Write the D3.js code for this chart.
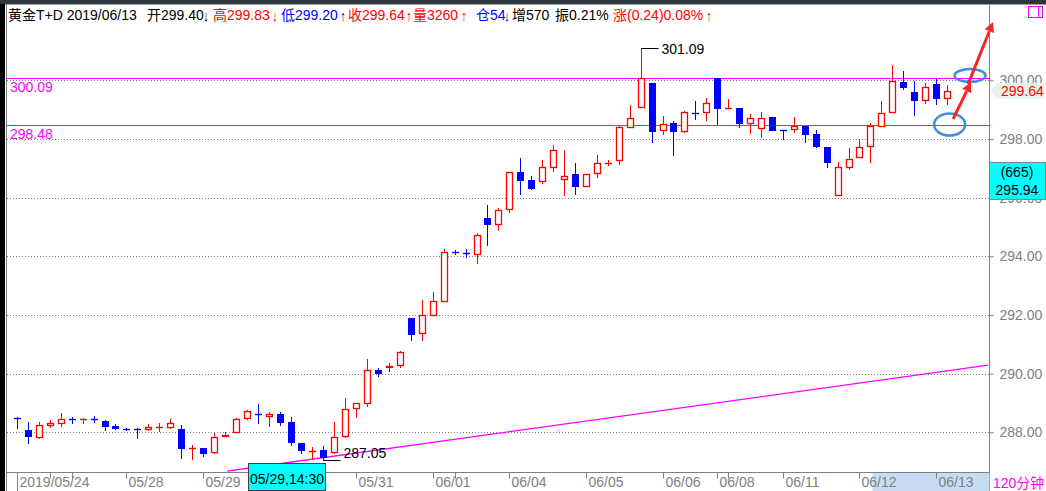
<!DOCTYPE html>
<html><head><meta charset="utf-8">
<script src="https://cdn.jsdelivr.net/npm/d3@7"></script>
<style>
body{margin:0;background:#fff;overflow:hidden}
svg{display:block}
text{font-family:"Liberation Sans","Noto Sans CJK SC",sans-serif}
</style>
</head><body>
<svg id="c" width="1046" height="491"></svg>
<script>
// ---------- data (120-minute candles, 黄金T+D) ----------
const opens = [288.50,288.08,287.85,288.26,288.33,288.46,288.44,288.45,288.38,288.20,
  288.11,288.12,288.10,288.18,288.19,288.11,287.45,287.47,287.32,287.86,
  288.00,288.48,288.61,288.56,288.63,288.35,287.64,287.36,287.40,287.32,
  287.89,288.82,288.99,290.13,290.22,290.28,291.90,291.38,292.01,292.47,
  294.15,294.10,294.07,295.30,295.10,295.60,296.86,296.59,296.58,297.06,
  296.65,296.81,296.38,296.83,297.17,297.27,298.40,299.08,299.91,298.32,
  298.55,298.28,298.90,298.91,300.09,299.05,299.05,298.53,298.36,298.75,
  298.32,298.33,298.44,298.17,297.73,296.09,297.03,297.38,297.75,298.45,
  298.91,299.93,299.60,299.34,299.86,299.40];
const highs = [288.52,288.34,288.34,288.41,288.66,288.52,288.50,288.56,288.41,288.28,
  288.16,288.16,288.28,288.32,288.45,288.25,287.56,287.47,287.97,288.00,
  288.48,288.77,288.97,288.68,288.68,288.52,287.64,287.50,287.53,288.35,
  289.17,288.99,290.50,290.19,290.36,290.77,291.90,292.51,292.77,294.24,
  294.20,294.24,294.78,295.75,295.64,296.86,297.35,296.73,297.28,297.80,
  297.63,297.18,296.80,297.45,297.28,298.48,299.16,301.09,299.91,298.78,
  298.61,298.95,299.30,299.40,300.09,299.35,299.05,298.85,298.93,298.75,
  298.32,298.74,298.44,298.31,297.73,297.20,297.69,298.01,298.53,299.30,
  300.53,300.32,299.99,299.92,300.05,299.83];
const lows = [288.16,287.63,287.82,288.19,288.23,288.32,288.33,288.34,288.09,288.12,
  288.08,287.82,288.08,288.05,288.13,287.14,287.09,287.20,287.31,287.86,
  288.00,288.44,288.33,288.23,288.26,287.58,287.31,287.14,287.05,287.30,
  287.85,288.53,288.91,289.93,290.10,290.24,291.16,291.16,292.01,292.47,
  294.07,293.97,293.76,294.40,294.88,295.52,296.14,296.31,296.51,296.92,
  296.10,296.14,296.38,296.72,297.11,297.16,298.40,299.08,297.91,298.18,
  297.45,298.25,298.68,298.65,298.51,299.05,298.42,298.22,298.05,298.32,
  298.01,298.25,297.91,297.72,297.06,296.09,296.97,297.38,297.23,298.45,
  298.91,299.70,298.83,299.24,299.20,299.20];
const closes = [288.48,287.89,288.24,288.33,288.44,288.45,288.45,288.44,288.23,288.13,
  288.10,288.11,288.17,288.19,288.31,287.48,287.46,287.31,287.83,287.91,
  288.44,288.72,288.59,288.63,288.36,287.66,287.39,287.37,287.15,287.83,
  288.78,288.99,290.11,290.03,290.27,290.73,291.36,291.99,292.47,294.14,
  294.14,294.09,294.72,295.11,295.57,296.86,296.61,296.34,297.03,297.61,
  296.73,296.38,296.80,297.17,297.18,298.40,298.70,300.07,298.28,298.50,
  298.28,298.92,298.89,299.23,299.07,299.06,298.56,298.70,298.70,298.32,
  298.31,298.43,298.18,297.76,297.23,297.03,297.31,297.72,298.43,298.88,
  299.97,299.76,299.34,299.78,299.41,299.64];

const yTicks = [288,290,292,294,296,298,300];
const tickIdx    = [0,3,5,10,17,24,31,38,40,45,52,59,64,65,70,77,84];
const tickLabels = ["2019/05/24","","","05/28","05/29","","05/31","06/01","","06/04","06/05","06/06","06/08","","06/11","06/12","06/13"];
const levels = [300.09, 298.48];
const trendIdx = [19.2, 88.76];
const trendVal = [286.68, 290.29];
const maxIdx = 57, maxVal = 301.09;
const minIdx = 28, minVal = 287.05;
const lastPrice = 299.64;
const cursorPrice = 295.94, cursorCount = "(665)", cursorLabel = "05/29,14:30";
const headerText = ["黄金T+D 2019/06/13","开299.40","高299.83","低299.20","收299.64","量3260","仓54","增570","振0.21%","涨(0.24)0.08%"];
const headerColor = ["#000","#000","#f00","#00f","#f00","#f00","#00f","#000","#000","#f00"];
const headerX = [8,147,213,281,348,413,476,512,555,613];
const arrowText = ["↓","↓","↑","↑","↑","↓","↑"];
const arrowColor = ["#000","#f00","#00f","#f00","#f00","#00f","#f00"];
const arrowX = [203,272,340,406,461,504,706];

// ---------- drawing ----------
const W = 1046, H = 491;
const L = 7, R = 989.5, T = 5, B = 472.5;
const svg = d3.select("#c");
const x = d3.scaleLinear().domain([0, 85]).range([17, 947]);
const y = d3.scaleLinear().domain([288, 300]).range([432.3, 80.3]);
const RED = "#ff0000", BLUE = "#0000ff", GRAY = "#808080", MAG = "#ff00ff";

// frame
svg.append("rect").attr("x",0).attr("y",0).attr("width",W).attr("height",4).attr("fill","#30363c");
svg.append("line").attr("x1",0).attr("x2",W).attr("y1",4.5).attr("y2",4.5).attr("stroke","#a0a0a0");
svg.append("rect").attr("x",0).attr("y",4).attr("width",5).attr("height",H).attr("fill","#000");
svg.append("line").attr("x1",6.5).attr("x2",6.5).attr("y1",5).attr("y2",H).attr("stroke",GRAY);

// header text
const hg = svg.append("g");
headerText.forEach((t,k)=>hg.append("text").attr("x",headerX[k]).attr("y",20).attr("font-size",14).attr("fill",headerColor[k]).text(t));
arrowText.forEach((t,k)=>hg.append("text").attr("x",arrowX[k]).attr("y",21).attr("font-size",15)
  .attr("font-family",'"DejaVu Sans",sans-serif').attr("textLength",6).attr("lengthAdjust","spacingAndGlyphs")
  .attr("fill",arrowColor[k]).text(t));

// grid
const grid = svg.append("g");
grid.selectAll("line").data(yTicks).join("line")
  .attr("x1",L).attr("x2",R).attr("y1",d=>Math.round(y(d))+0.5).attr("y2",d=>Math.round(y(d))+0.5)
  .attr("stroke",GRAY).attr("stroke-dasharray","1,2");

// right axis
const yAxis = d3.axisRight(y).tickValues(yTicks).tickSize(4).tickPadding(6).tickFormat(d3.format(".2f"));
const ya = svg.append("g").attr("transform",`translate(${R},0)`).call(yAxis);
ya.select(".domain").remove();
ya.selectAll("line").attr("stroke",GRAY);
ya.selectAll("text").attr("fill",GRAY).attr("font-size",14).attr("font-family",'"Liberation Sans",sans-serif');
svg.append("line").attr("x1",R).attr("x2",R).attr("y1",5).attr("y2",H).attr("stroke",GRAY);

// bottom axis
svg.append("rect").attr("x",x(77)+13).attr("y",B+0.5).attr("width",R-x(77)-13).attr("height",H-B).attr("fill","#c7dcf3");
svg.append("line").attr("x1",L).attr("x2",R).attr("y1",B).attr("y2",B).attr("stroke",GRAY);
const tk = svg.append("g");
tickIdx.forEach((t,k)=>{
  const tx = Math.round(x(t))+0.5;
  tk.append("line").attr("x1",tx).attr("x2",tx).attr("y1",B).attr("y2",k===0?H:B+6).attr("stroke",GRAY);
  if (tickLabels[k]) tk.append("text").attr("x",tx+2).attr("y",487).attr("font-size",14).attr("fill",GRAY).text(tickLabels[k]);
});
svg.append("text").attr("x",993).attr("y",488).attr("font-size",14).attr("fill",MAG).text("120分钟");

// magenta levels
levels.forEach(v=>{
  const ly = Math.round(y(v))+0.5;
  svg.append("line").attr("x1",L).attr("x2",R).attr("y1",ly).attr("y2",ly).attr("stroke",MAG);
  svg.append("text").attr("x",10).attr("y",ly+13).attr("font-size",14).attr("fill",MAG).text(v.toFixed(2));
});
// trend line
svg.append("line").attr("x1",x(trendIdx[0])).attr("y1",y(trendVal[0])).attr("x2",x(trendIdx[1])).attr("y2",y(trendVal[1]))
  .attr("stroke",MAG).attr("stroke-width",1.3);

// candles
const cg = svg.append("g");
opens.forEach((o,i)=>{
  const c = closes[i], h = highs[i], l = lows[i];
  const up = c >= o;
  const col = up ? RED : BLUE;
  const cx = Math.round(x(i));
  const yTop = Math.round(y(Math.max(o,c))), yBot = Math.round(y(Math.min(o,c)));
  const yh = Math.round(y(h)), yl = Math.round(y(l));
  cg.append("line").attr("x1",cx+0.5).attr("x2",cx+0.5).attr("y1",yh).attr("y2",yl+1).attr("stroke",col);
  if (Math.abs(o-c) < 0.035 || yBot - yTop < 1) {
    cg.append("line").attr("x1",cx-3).attr("x2",cx+4).attr("y1",yTop+0.5).attr("y2",yTop+0.5).attr("stroke",col).attr("stroke-width",1.4);
  } else if (up) {
    cg.append("rect").attr("x",cx-2.5).attr("y",yTop+0.5).attr("width",6).attr("height",yBot-yTop)
      .attr("fill","#fff").attr("stroke",RED).attr("stroke-width",1.3);
  } else {
    cg.append("rect").attr("x",cx-3).attr("y",yTop).attr("width",7).attr("height",yBot-yTop+1).attr("fill",BLUE);
  }
});

// max / min labels
const mx = Math.round(x(maxIdx))+0.5, my = Math.round(y(maxVal))+0.5;
svg.append("line").attr("x1",mx).attr("x2",mx+17).attr("y1",my).attr("y2",my).attr("stroke","#000");
svg.append("text").attr("x",mx+20).attr("y",my+5).attr("font-size",14).attr("fill","#000").text(maxVal.toFixed(2));
const nx = Math.round(x(minIdx))+0.5, ny = Math.round(y(minVal))+0.5;
svg.append("line").attr("x1",nx).attr("x2",nx+17).attr("y1",ny).attr("y2",ny).attr("stroke","#000");
svg.append("text").attr("x",nx+20).attr("y",ny-3).attr("font-size",14).attr("fill","#000").text(minVal.toFixed(2));

// cursor date box
svg.append("rect").attr("x",248.5).attr("y",463.5).attr("width",77).attr("height",27).attr("fill","#00ffff").attr("stroke","#404040");
svg.append("text").attr("x",287).attr("y",484).attr("text-anchor","middle").attr("font-size",14).attr("fill","#000").text(cursorLabel);

// last price label
const py = y(lastPrice);
svg.append("path").attr("d",`M${R+1},${py} L${R+8},${py-8} L1044,${py-8} L1044,${py+8} L${R+8},${py+8} Z`).attr("fill","#e8f2e8");
svg.append("text").attr("x",1001).attr("y",py+5).attr("font-size",14).attr("fill",RED).text(lastPrice.toFixed(2));

// cursor price box
const cy = y(cursorPrice);
svg.append("rect").attr("x",989.5).attr("y",cy-37).attr("width",56).attr("height",37).attr("fill","#00ffff").attr("stroke",GRAY);
svg.append("text").attr("x",1017).attr("y",cy-22).attr("text-anchor","middle").attr("font-size",14).attr("fill","#000").text(cursorCount);
svg.append("text").attr("x",1017).attr("y",cy-4).attr("text-anchor","middle").attr("font-size",14).attr("fill","#000").text(cursorPrice.toFixed(2));

// corner icon
svg.append("rect").attr("x",1028.5).attr("y",6.5).attr("width",14).attr("height",11).attr("fill","none").attr("stroke",MAG);
svg.append("line").attr("x1",1038.5).attr("x2",1038.5).attr("y1",6.5).attr("y2",17.5).attr("stroke",MAG);

// annotations (ellipses + arrows) in data space
const ann = svg.append("g");
ann.append("ellipse").attr("cx",x(87.11)).attr("cy",y(300.16)).attr("rx",15.5).attr("ry",6.5)
  .attr("fill","none").attr("stroke","#3f8fdd").attr("stroke-width",2.5);
ann.append("ellipse").attr("cx",x(85.24)).attr("cy",y(298.49)).attr("rx",15.5).attr("ry",11)
  .attr("fill","none").attr("stroke","#3f8fdd").attr("stroke-width",2.5);
function arrow(i1,v1,i2,v2){
  const x1=x(i1),y1=y(v1),x2=x(i2),y2=y(v2);
  const a=Math.atan2(y2-y1,x2-x1), len=10, wd=5;
  const bx=x2-len*Math.cos(a), by=y2-len*Math.sin(a);
  ann.append("line").attr("x1",x1).attr("y1",y1).attr("x2",bx).attr("y2",by).attr("stroke","#f02828").attr("stroke-width",3);
  const px=-Math.sin(a)*wd, pyy=Math.cos(a)*wd;
  ann.append("path").attr("d",`M${x2},${y2} L${bx+px},${by+pyy} L${bx-px},${by-pyy} Z`).attr("fill","#f02828");
}
arrow(85.56,298.68,87.20,299.94);
arrow(86.93,299.87,89.21,301.99);
</script>
</body></html>
